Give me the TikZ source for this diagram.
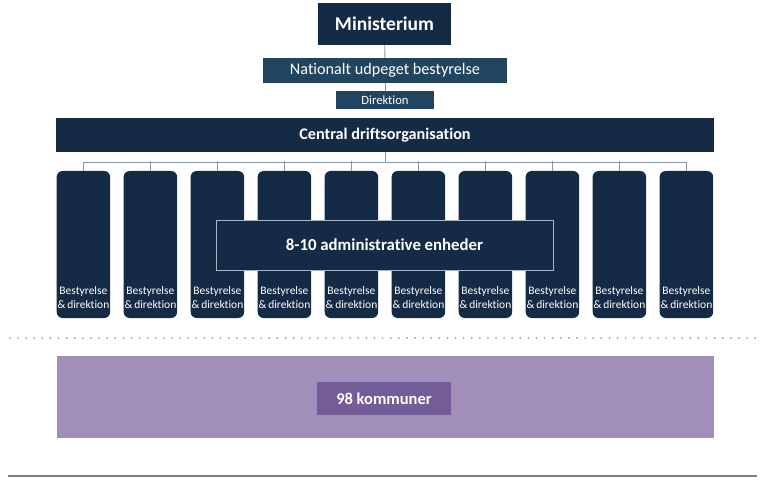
\documentclass[tikz,border=0pt]{standalone}
\usepackage{fontspec}
\setmainfont{Carlito}[Ligatures=NoCommon]
\definecolor{marine}{HTML}{152A45}
\definecolor{staal}{HTML}{21445F}
\definecolor{streg}{HTML}{8797AA}
\definecolor{kant}{HTML}{A7B6C6}
\definecolor{lilla}{HTML}{A18EB9}
\definecolor{mlilla}{HTML}{735C97}
\begin{document}
\begin{tikzpicture}[x=1pt,y=-1pt]
	% Styles (MODIFIABLES)
	\tikzstyle{forbindelse}=[-,draw=streg,line width=0.9pt]
	\tikzstyle{top}=[fill=marine,text=white,font=\bfseries\fontsize{19.5}{22}\selectfont,inner sep=0pt]
	\tikzstyle{stab}=[fill=staal,text=white,inner sep=0pt]
	\tikzstyle{enhed}=[fill=marine,rounded corners=6pt,text=white,inner sep=0pt]
	\tikzstyle{etiket}=[text=white,font=\fontsize{11.5}{14}\selectfont,align=center,inner sep=0pt]
	\tikzstyle{admin}=[fill=marine,draw=kant,line width=0.8pt,text=white,font=\bfseries\fontsize{16.8}{19}\selectfont,inner sep=0pt]
	% Dimensions (MODIFIABLES)
	\def\Pas{67}
	\def\Start{83.4}
	\def\BredEnhed{53.5}
	\def\HojEnhed{147}
	% Dimensions calculées
	\def\Kol#1{{\Start+(#1)*\Pas}}
	\def\MidtEnhed{244.5}
	\useasboundingbox (0,0) rectangle (770,481);
	% Ledelse
	\node[top,minimum width=133pt,minimum height=42pt] (M) at (384.5,24) {Ministerium};
	\node[stab,minimum width=244pt,minimum height=25pt,font=\fontsize{16.2}{18}\selectfont] (N) at (385,70.5) {Nationalt udpeget bestyrelse};
	\node[stab,minimum width=98pt,minimum height=18pt,font=\fontsize{12.6}{14}\selectfont] (D) at (385,100) {Direktion};
	\node[top,minimum width=658pt,minimum height=34pt,font=\bfseries\fontsize{16.2}{18}\selectfont] (C) at (385,135) {Central driftsorganisation};
	% Enheder
	\node[enhed,minimum width=\BredEnhed pt,minimum height=\HojEnhed pt] (E1) at (\Kol{0},\MidtEnhed) {};
	\node[enhed,minimum width=\BredEnhed pt,minimum height=\HojEnhed pt] (E2) at (\Kol{1},\MidtEnhed) {};
	\node[enhed,minimum width=\BredEnhed pt,minimum height=\HojEnhed pt] (E3) at (\Kol{2},\MidtEnhed) {};
	\node[enhed,minimum width=\BredEnhed pt,minimum height=\HojEnhed pt] (E4) at (\Kol{3},\MidtEnhed) {};
	\node[enhed,minimum width=\BredEnhed pt,minimum height=\HojEnhed pt] (E5) at (\Kol{4},\MidtEnhed) {};
	\node[enhed,minimum width=\BredEnhed pt,minimum height=\HojEnhed pt] (E6) at (\Kol{5},\MidtEnhed) {};
	\node[enhed,minimum width=\BredEnhed pt,minimum height=\HojEnhed pt] (E7) at (\Kol{6},\MidtEnhed) {};
	\node[enhed,minimum width=\BredEnhed pt,minimum height=\HojEnhed pt] (E8) at (\Kol{7},\MidtEnhed) {};
	\node[enhed,minimum width=\BredEnhed pt,minimum height=\HojEnhed pt] (E9) at (\Kol{8},\MidtEnhed) {};
	\node[enhed,minimum width=\BredEnhed pt,minimum height=\HojEnhed pt] (E10) at (\Kol{9},\MidtEnhed) {};
	\foreach \i in {1,...,10}
		\node[etiket,anchor=south] (L\i) at ([yshift=9pt]E\i.south) {Bestyrelse\\\&\,direktion};
	\node[admin,minimum width=337pt,minimum height=50pt] (A) at (384.5,245) {8-10 administrative enheder};
	% Arcs
	\draw[forbindelse] (M)--(N);
	\draw[forbindelse] (N)--(D);
	\coordinate (B) at (385,162);
	\draw[forbindelse] (C)--(B);
	\draw[forbindelse] (E1.north)|-(B);
	\draw[forbindelse] (E10.north)|-(B);
	\foreach \i in {2,...,9}
		\draw[forbindelse] (E\i.north)--++(0,-10);
	% Skillelinje
	\coordinate (P1) at (10,338);
	\coordinate (P2) at (762,338);
	\draw[draw=streg!80,line width=2.2pt,line cap=round,dash pattern=on 0pt off 8.1pt] (P1)--(P2);
	% Kommuner
	\node[fill=lilla,minimum width=657pt,minimum height=82pt,inner sep=0pt] (K) at (385.5,397) {};
	\node[fill=mlilla,text=white,minimum width=134pt,minimum height=33pt,inner sep=0pt,font=\bfseries\fontsize{16.5}{18}\selectfont] (K98) at (384,398.5) {98 kommuner};
	% Bundlinje
	\coordinate (Q1) at (8,476);
	\coordinate (Q2) at (757,476);
	\draw[draw=gray,line width=1.5pt] (Q1)--(Q2);
\end{tikzpicture}
\end{document}
